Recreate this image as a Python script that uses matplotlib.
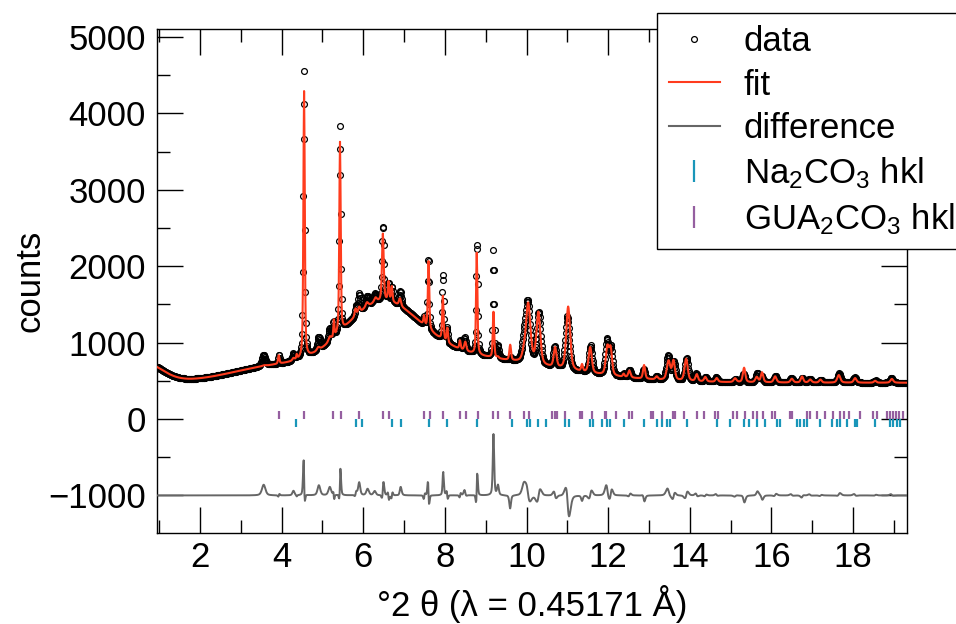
import numpy as np
import matplotlib
matplotlib.use("Agg")
import matplotlib.pyplot as plt
from matplotlib.lines import Line2D
from matplotlib.ticker import MultipleLocator

plt.rcParams['font.family'] = ['Liberation Sans', 'DejaVu Sans']
plt.rcParams['mathtext.fontset'] = 'custom'
plt.rcParams['mathtext.rm'] = 'Liberation Sans'
plt.rcParams['mathtext.it'] = 'Liberation Sans:italic'

# scan range and step, degrees 2-theta
tth_start, tth_end, tth_step = 0.95, 19.30, 0.01

# background: constant plus broad gaussian terms (centre, height, fwhm)
bkg_const = 475.0
bkg_pos = [0.6, 3.6, 6.45, 7.6]
bkg_height = [257, 100, 720, 380]
bkg_fwhm = [1.06, 2.12, 2.12, 6.12]

# reflections: position, fwhm, observed / calculated height above background,
# and the offset of the observed line from the calculated one
peak_pos = [3.56, 3.93, 4.29, 4.37, 4.55, 4.90, 5.18, 5.28, 5.43, 5.81,
            5.90, 6.09, 6.30, 6.48, 6.62, 6.70, 6.90, 7.49, 7.60, 7.95,
            8.06, 8.37, 8.50, 8.78, 9.19, 9.30, 9.60, 9.93, 10.04, 10.29,
            10.70, 11.02, 11.36, 11.56, 11.98, 12.06, 12.38, 12.52, 12.88, 13.19,
            13.48, 13.60, 13.91, 14.17, 14.38, 14.66, 15.11, 15.33, 15.64, 15.77,
            16.09, 16.50, 16.75, 16.95, 17.20, 17.65, 18.05, 18.54, 18.95]
peak_fwhm = [0.10, 0.04, 0.06, 0.03, 0.04, 0.08, 0.08, 0.03, 0.04, 0.05,
             0.06, 0.08, 0.08, 0.05, 0.04, 0.04, 0.06, 0.04, 0.04, 0.04,
             0.04, 0.04, 0.06, 0.04, 0.04, 0.05, 0.05, 0.10, 0.13, 0.11,
             0.08, 0.11, 0.05, 0.09, 0.09, 0.08, 0.05, 0.07, 0.06, 0.07,
             0.10, 0.08, 0.09, 0.07, 0.07, 0.07, 0.08, 0.07, 0.08, 0.07,
             0.08, 0.08, 0.07, 0.08, 0.07, 0.09, 0.08, 0.07, 0.08]
peak_obs = [150, 110, 90, 40, 3780, 170, 170, 200, 2720, 120,
            250, 140, 110, 990, 230, 200, 200, 100, 940, 860,
            190, 110, 170, 1480, 1400, 150, 30, 200, 800, 680,
            270, 700, 20, 360, 460, 360, 40, 100, 120, 40,
            320, 240, 300, 100, 60, 60, 40, 110, 120, 80,
            90, 60, 60, 50, 40, 120, 70, 30, 60]
peak_calc = [10, 110, 30, 60, 3490, 40, 60, 220, 2490, 100,
             80, 60, 60, 880, 250, 200, 100, 120, 890, 575,
             190, 110, 120, 1330, 600, 20, 200, 80, 780, 680,
             260, 830, 90, 340, 360, 330, 40, 90, 180, 40,
             250, 250, 290, 90, 60, 50, 50, 190, 70, 130,
             80, 50, 80, 40, 40, 100, 60, 25, 50]
peak_shift = [0.0, 0.005, 0.0, 0.0, -0.002, 0.01, 0.0, -0.005, 0.002, 0.01,
              0.0, 0.01, -0.01, 0.004, -0.006, 0.006, 0.01, 0.01, -0.005, 0.003,
              -0.008, 0.008, -0.01, 0.004, 0.0, 0.0, 0.01, 0.0, -0.012, 0.01,
              -0.01, -0.02, 0.0, 0.01, -0.01, 0.01, 0.0, 0.01, -0.01, 0.0,
              -0.01, 0.01, 0.01, -0.01, 0.01, -0.01, 0.01, -0.01, 0.01, -0.01,
              0.01, -0.01, 0.01, -0.01, 0.01, 0.01, -0.01, 0.01, -0.01]

# reflection positions of the two phases
na2co3_hkl = [4.35, 5.81, 5.96, 6.70, 6.93, 7.62, 8.06, 8.78, 9.65, 10.02,
              10.09, 10.27, 10.48, 10.95, 11.04, 11.56, 11.64, 11.85, 11.97, 12.05,
              12.38, 12.87, 13.19, 13.32, 13.44, 13.52, 13.93, 14.66, 14.99, 15.32,
              15.44, 15.64, 15.85, 16.13, 16.21, 16.63, 16.70, 16.79, 16.87, 17.20,
              17.48, 17.61, 17.69, 17.85, 18.05, 18.10, 18.54, 18.91, 18.99, 19.08,
              19.16]
gua2co3_hkl = [3.94, 4.56, 5.27, 5.45, 5.90, 6.49, 6.62, 7.49, 7.64, 7.95,
               8.37, 8.51, 8.81, 9.19, 9.30, 9.60, 9.94, 10.05, 10.63, 10.69,
               10.75, 10.95, 11.31, 11.36, 11.60, 11.93, 11.95, 12.20, 12.52, 12.58,
               13.05, 13.11, 13.32, 13.60, 13.64, 13.85, 14.17, 14.35, 14.62, 14.69,
               15.07, 15.15, 15.36, 15.56, 15.64, 15.79, 16.01, 16.09, 16.46, 16.50,
               16.87, 16.95, 17.12, 17.32, 17.52, 17.69, 17.77, 17.89, 18.18, 18.50,
               18.59, 18.83, 18.91, 18.99, 19.06, 19.13, 19.23]


def profile(tth, pos, height, fwhm, eta):
    """Sum of pseudo-Voigt lines evaluated on tth."""
    d = (tth[:, None] - np.asarray(pos)) / (0.5 * np.asarray(fwhm))
    shape = eta / (1 + d**2) + (1 - eta) * np.exp(-np.log(2) * d**2)
    return shape @ np.asarray(height, dtype=float)


tth = np.arange(tth_start, tth_end + tth_step / 2, tth_step)
bkg = bkg_const + profile(tth, bkg_pos, bkg_height, bkg_fwhm, 0.0)
obs_pos = np.asarray(peak_pos) + np.asarray(peak_shift)
y_obs = bkg + profile(tth, obs_pos, peak_obs, peak_fwhm, 0.5)
y_calc = bkg + profile(tth, peak_pos, peak_calc, peak_fwhm, 0.5)
y_diff = y_obs - y_calc - 1000

c_fit = '#ff3c1e'
c_diff = '#666666'
c_na = '#1996b9'
c_gua = '#955fa0'

fig = plt.figure(figsize=(9.56, 6.24), dpi=100)
ax = fig.add_axes([0.1642, 0.1458, 0.7845, 0.8077])

ax.plot(tth, y_obs, 'o', ms=4.2, mfc='none', mec='black', mew=0.9, zorder=2)
ax.plot(tth, y_calc, '-', color=c_fit, lw=1.5, zorder=3)
ax.plot(tth, y_diff, '-', color=c_diff, lw=1.4, zorder=3)
ax.plot(gua2co3_hkl, np.full(len(gua2co3_hkl), 55.0), '|', color=c_gua,
        ms=6, mew=1.6, zorder=2)
ax.plot(na2co3_hkl, np.full(len(na2co3_hkl), -55.0), '|', color=c_na,
        ms=6, mew=1.6, zorder=2)

ax.set_xlim(0.946, 19.32)
ax.set_ylim(-1492, 5105)
ax.xaxis.set_major_locator(MultipleLocator(2))
ax.xaxis.set_minor_locator(MultipleLocator(1))
ax.yaxis.set_major_locator(MultipleLocator(1000))
ax.yaxis.set_minor_locator(MultipleLocator(500))
ax.tick_params(which='both', direction='in', top=True, right=True,
               width=1.0, labelsize=25)
ax.tick_params(which='major', length=18.7)
ax.tick_params(which='minor', length=9.4)
ax.tick_params(axis='x', pad=6)
ax.tick_params(axis='y', pad=8)
for sp in ax.spines.values():
    sp.set_linewidth(1.0)

ax.set_xlabel('°2 θ (λ = 0.45171 Å)', fontsize=25, labelpad=8)
ax.set_ylabel('counts', fontsize=25, labelpad=1)

handles = [
    Line2D([], [], ls='none', marker='o', ms=4.2, mfc='none', mec='black', mew=0.9),
    Line2D([], [], color=c_fit, lw=1.5),
    Line2D([], [], color=c_diff, lw=1.5),
    Line2D([], [], ls='none', marker='|', ms=16, mew=1.6, color=c_na),
    Line2D([], [], ls='none', marker='|', ms=16, mew=1.6, color=c_gua),
]
labels = ['data', 'fit', 'difference', 'Na$_2$CO$_3$ hkl', 'GUA$_2$CO$_3$ hkl']
# box runs past the right edge of the figure
leg = fig.legend(handles, labels, loc='upper left', mode='expand',
                 bbox_to_anchor=(657 / 956, 1 - 13 / 624, 0.33, 0),
                 borderaxespad=0, fontsize=25, frameon=True, fancybox=False,
                 framealpha=1, edgecolor='black', handlelength=1.45,
                 handletextpad=0.7, labelspacing=0.3, borderpad=0.35,
                 numpoints=1)
leg.get_frame().set_linewidth(1.0)

fig.savefig('out.png', dpi=100)
